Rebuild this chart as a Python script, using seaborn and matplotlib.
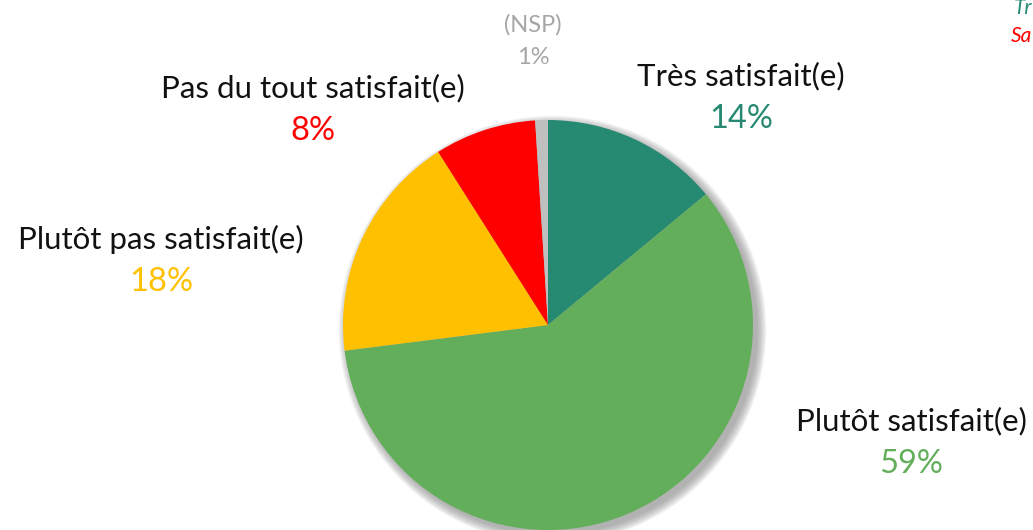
import matplotlib
matplotlib.use('Agg')
import matplotlib.pyplot as plt
from matplotlib.patches import Circle
import seaborn as sns

sns.set_theme(style='white')
plt.rcParams['font.family'] = ['Lato', 'DejaVu Sans']

# data
categories = ['Très satisfait(e)', 'Plutôt satisfait(e)', 'Plutôt pas satisfait(e)',
              'Pas du tout satisfait(e)', '(NSP)']
values = [14, 59, 18, 8, 1]

colors = ['#268A73', '#63AE5A', '#FFC000', '#FF0000', '#BFBFBF']
pct_colors = ['#268A73', '#63AE5A', '#FFC000', '#FF0000', '#A6A6A6']

# label anchor (pixels, centre of name line) -- layout only
label_px = [(741, 76), (911, 421), (161, 239), (313, 88), (533, 25)]

W, H = 1033, 530
CX, CY, R = 548, 325, 205

fig = plt.figure(figsize=(W / 100, H / 100), dpi=100)
fig.patch.set_facecolor('white')
ax = fig.add_axes([(CX - R) / W, (H - CY - R) / H, 2 * R / W, 2 * R / H])

# soft grey shadow, offset to the bottom right
for k in range(8):
    ax.add_patch(Circle((0.022, -0.022), 1.0 + 0.006 * k, color='#7f7f7f',
                        alpha=0.10, lw=0, zorder=0, clip_on=False))

ax.pie(values, colors=colors, startangle=90, counterclock=False, radius=1,
       wedgeprops={'linewidth': 0, 'zorder': 2, 'clip_on': False})
ax.set_xlim(-1, 1)
ax.set_ylim(-1, 1)
ax.axis('off')

def to_data(px, py):
    return (px - CX) / R, (CY - py) / R

for i, (name, v) in enumerate(zip(categories, values)):
    px, py = label_px[i]
    small = name == '(NSP)'
    x, y = to_data(px, py)
    ax.text(x, y, name, ha='center', va='center', clip_on=False,
            fontsize=17 if small else 22.5, fontweight='normal',
            color='#A6A6A6' if small else '#111111')
    x2, y2 = to_data(px, py + (33 if small else 43))
    ax.text(x2, y2, f'{v}%', ha='center', va='center', clip_on=False,
            fontsize=17 if small else 23.5, color=pct_colors[i])

# cut-off notes in the top right corner (only their first letters show)
fig.text(1032 / W, 1 - 8 / H, 'Tr', color='#268A73', fontstyle='italic',
         fontsize=15, va='center', ha='right')
fig.text(1032 / W, 1 - 36 / H, 'Sa', color='#FF0000', fontstyle='italic',
         fontsize=15, va='center', ha='right')

fig.savefig('out.png', dpi=100, facecolor='white')
